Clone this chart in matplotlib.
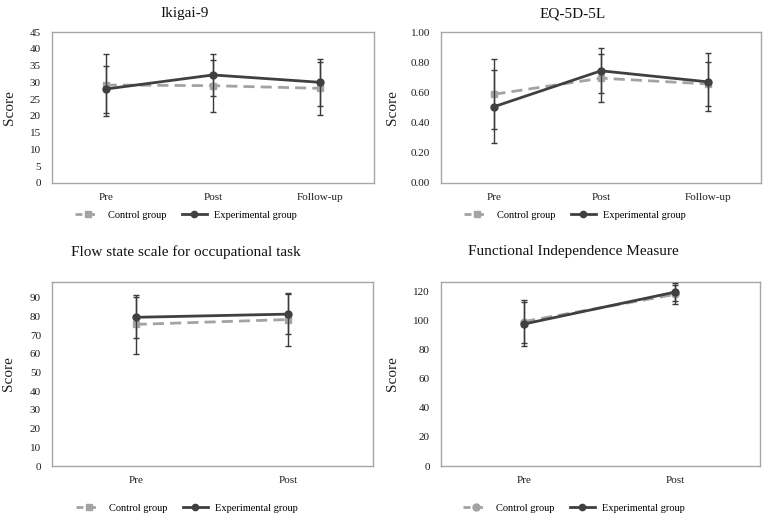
import matplotlib
matplotlib.use("Agg")
import matplotlib.pyplot as plt
from matplotlib.lines import Line2D

plt.rcParams['font.family'] = ['Liberation Serif', 'DejaVu Serif']

# ---------------- data ----------------
cats3 = ["Pre", "Post", "Follow-up"]
cats2 = ["Pre", "Post"]

ikigai_ctrl = [29.2, 29.0, 28.2]
ikigai_ctrl_sd = [9.1, 7.8, 8.0]
ikigai_exp = [28.0, 32.2, 30.0]
ikigai_exp_sd = [7.0, 6.3, 7.0]

eq_ctrl = [0.588, 0.694, 0.656]
eq_ctrl_sd = [0.23, 0.16, 0.145]
eq_exp = [0.506, 0.743, 0.670]
eq_exp_sd = [0.24, 0.148, 0.192]

flow_ctrl = [75.8, 78.4]
flow_ctrl_sd = [15.8, 14.4]
flow_exp = [79.6, 81.3]
flow_exp_sd = [11.0, 10.8]

fim_ctrl = [99.5, 118.2]
fim_ctrl_sd = [15.0, 6.5]
fim_exp = [97.8, 119.8]
fim_exp_sd = [15.0, 6.0]

legend_labels = ["Control group", "Experimental group"]

# ---------------- style ----------------
W, H = 765, 517
CTRL_C = '#a3a3a3'
EXP_C = '#404040'
ERR_C = '#3a3a3a'
SPINE_C = '#a6a6a6'

fig = plt.figure(figsize=(W / 100, H / 100), dpi=100)


def make_ax(x0, y0, x1, y1):
    return fig.add_axes([x0 / W, 1 - y1 / H, (x1 - x0) / W, (y1 - y0) / H])


def panel(box, title, title_xy, cats, ctrl, ctrl_sd, exp, exp_sd, ylim, yticks,
          yfmt, xlim, ctrl_marker, leg_xy, ylab_px):
    ax = make_ax(*box)
    x = list(range(len(cats)))
    ax.errorbar(x, ctrl, yerr=ctrl_sd, color=CTRL_C, ecolor=ERR_C, elinewidth=1.0,
                capsize=2.5, capthick=1.0, ls=(0, (4.0, 2.2)), lw=2.0,
                marker=ctrl_marker, ms=5, mfc=CTRL_C, mec=CTRL_C, zorder=2)
    ax.errorbar(x, exp, yerr=exp_sd, color=EXP_C, ecolor=ERR_C, elinewidth=1.0,
                capsize=2.5, capthick=1.0, ls='-', lw=2.0,
                marker='o', ms=5, mfc=EXP_C, mec=EXP_C, zorder=3)
    ax.set_ylim(*ylim)
    ax.set_xlim(*xlim)
    ax.set_yticks(yticks)
    ax.set_yticklabels([yfmt.format(v) for v in yticks])
    ax.set_xticks(x)
    ax.set_xticklabels(cats)
    ax.tick_params(axis='both', length=0, labelsize=8, colors='#1e1e1e')
    ax.tick_params(axis='y', pad=8)
    ax.tick_params(axis='x', pad=7)
    for s in ax.spines.values():
        s.set_color(SPINE_C)
        s.set_linewidth(1.0)
    ax.set_ylabel("Score", fontsize=11, color='#222222')
    ax.yaxis.set_label_coords((ylab_px - box[0]) / (box[2] - box[0]), 0.5)
    fig.text(title_xy[0] / W, 1 - title_xy[1] / H, title, ha='center', va='center',
             fontsize=11, color='#111111')
    handles = [
        Line2D([], [], color=CTRL_C, ls=(0, (2.5, 2.0)), lw=2.0, marker=ctrl_marker,
               ms=5, mfc=CTRL_C, mec=CTRL_C),
        Line2D([], [], color=EXP_C, ls='-', lw=2.0, marker='o', ms=4.5,
               mfc=EXP_C, mec=EXP_C),
    ]
    ax.legend(handles, legend_labels, loc='center', ncol=2, frameon=False,
              bbox_to_anchor=((leg_xy[0] - box[0]) / (box[2] - box[0]),
                              (box[3] - leg_xy[1]) / (box[3] - box[1])),
              bbox_transform=ax.transAxes, fontsize=7.5, handlelength=2.4,
              columnspacing=1.5, handletextpad=0.7)
    return ax


panel((52, 32, 374, 183), "Ikigai-9", (185, 14), cats3, ikigai_ctrl, ikigai_ctrl_sd,
      ikigai_exp, ikigai_exp_sd, (0, 45), list(range(0, 46, 5)), "{:d}",
      (-0.5, 2.5), 's', (186, 215), 16)

panel((441, 32, 761, 183), "EQ-5D-5L", (573, 14), cats3, eq_ctrl, eq_ctrl_sd,
      eq_exp, eq_exp_sd, (0, 1.0), [0, 0.2, 0.4, 0.6, 0.8, 1.0], "{:.2f}",
      (-0.5, 2.5), 's', (575, 215), 399)

panel((52, 282, 373, 466), "Flow state scale for occupational task", (186, 252), cats2,
      flow_ctrl, flow_ctrl_sd, flow_exp, flow_exp_sd, (0, 98.5),
      list(range(0, 91, 10)), "{:d}", (-0.55, 1.56), 's', (187, 508), 15)

panel((441, 282, 760, 466), "Functional Independence Measure", (573, 252), cats2,
      fim_ctrl, fim_ctrl_sd, fim_exp, fim_exp_sd, (0, 126.7),
      list(range(0, 121, 20)), "{:d}", (-0.55, 1.56), 'o', (574, 508), 399)

fig.savefig("out.png", dpi=100)
